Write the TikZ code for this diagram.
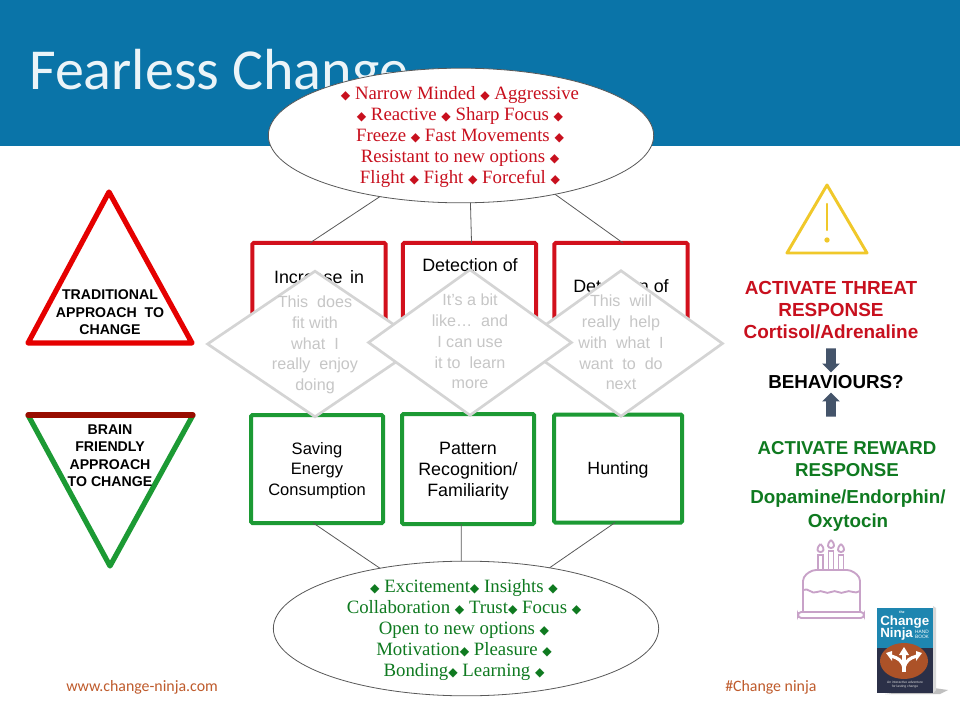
\documentclass[tikz,border=0pt]{standalone}
\usepackage{fontspec}
\setmainfont{Liberation Sans}
\newfontfamily\calfont{Carlito}
\newfontfamily\serfont{Liberation Serif}
\newfontfamily\symfont{DejaVu Sans}
\usetikzlibrary{shapes.geometric,shapes.arrows}
\definecolor{banner}{HTML}{0A74A8}
\definecolor{boxred}{HTML}{D2101C}
\definecolor{boxgreen}{HTML}{1C9A34}
\definecolor{txtred}{HTML}{C8101E}
\definecolor{txtgreen}{HTML}{0F7A20}
\definecolor{dimond}{HTML}{D4D4D4}
\definecolor{dimtxt}{HTML}{C6C6C6}
\definecolor{cake}{HTML}{C8A2C8}
\definecolor{foot}{HTML}{BF5B2C}
\definecolor{slate}{HTML}{44546A}
\definecolor{warn}{HTML}{F0C82A}
\definecolor{bookblue}{HTML}{1E86B0}
\definecolor{bookdark}{HTML}{2B3048}
\newcommand{\bul}{{\symfont\fontsize{9.2}{9.2}\selectfont ◆}}
\tikzset{
    oval/.style={draw=black!65, fill=white, ellipse, line width=0.6pt, inner sep=0pt, outer sep=0pt,
        minimum width=289pt, minimum height=101pt},
    ovaltxt/.style={align=center, inner sep=0pt, font=\serfont\fontsize{14.1}{15.75}\selectfont},
    redbox/.style={draw=boxred, fill=white, line width=3pt, rounded corners=1pt, inner sep=0pt, outer sep=0pt},
    greenbox/.style={draw=boxgreen, fill=white, line width=3pt, rounded corners=1pt, inner sep=0pt, outer sep=0pt},
    boxtxt/.style={align=center, inner sep=0pt, font=\fontsize{13.4}{15.6}\selectfont},
    dimbox/.style={draw=dimond, fill=white, diamond, line width=2pt, inner sep=0pt,
        minimum width=153pt, minimum height=110pt},
    dimlabel/.style={text=dimtxt, align=center, inner sep=0pt, font=\fontsize{12.1}{15.6}\selectfont},
    tritxt/.style={align=center, inner sep=0pt, font=\bfseries\fontsize{10.6}{13.1}\selectfont},
    sidetxt/.style={align=center, inner sep=0pt, font=\bfseries\fontsize{14.2}{16.5}\selectfont},
    blockarrow/.style={single arrow, fill=slate, inner xsep=0pt, inner ysep=3.4pt, minimum height=18pt, minimum width=13pt,
        single arrow head extend=3pt, single arrow tip angle=90},
    link/.style={draw=black!65, line width=0.6pt},
    footer/.style={text=foot, inner sep=0pt, font=\calfont\fontsize{11.9}{13}\selectfont}
}
\begin{document}
\begin{tikzpicture}[x=0.75pt, y=-0.75pt]
    \useasboundingbox (0, 0) rectangle (960, 720);
    \fill[white] (0, 0) rectangle (960, 720);

    % header
    \fill[banner] (0, 0) rectangle (960, 146);
    \node[text=white!92!banner, anchor=west, inner sep=0pt, font=\calfont\fontsize{43.5}{44}\selectfont] (title) at (29, 74) {Fearless Change};

    % ovals
    \node[oval] (threat) at (461, 135.5) {};
    \node[oval] (reward) at (466, 628.5) {};
    \node[ovaltxt, text=txtred] at (460, 137.5) {\bul{} Narrow Minded \bul{} Aggressive\\
        \bul{} Reactive \bul{} Sharp Focus \bul\\
        Freeze \bul{} Fast Movements \bul\\
        Resistant to new options \bul\\
        Flight \bul{} Fight \bul{} Forceful \bul};
    \node[ovaltxt, text=txtgreen] at (464, 630.5) {\bul{} Excitement\bul{} Insights \bul\\
        Collaboration \bul{} Trust\bul{} Focus \bul\\
        Open to new options \bul\\
        Motivation\bul{} Pleasure \bul\\
        Bonding\bul{} Learning \bul};

    % red boxes
    \node[redbox, minimum width=100pt, minimum height=87pt] (increase) at (319, 301) {};
    \node[redbox, minimum width=100pt, minimum height=87pt] (detecta) at (469.5, 301) {};
    \node[redbox, minimum width=100pt, minimum height=87pt] (detectb) at (621, 301) {};
    \node[boxtxt] at (319, 277) {Increase\hspace{0.42em}in};
    \node[boxtxt] at (470, 265) {Detection of};
    \node[boxtxt] at (621, 286) {Detection of};

    % green boxes
    \node[greenbox, minimum width=99pt, minimum height=81pt] (saving) at (317, 469) {};
    \node[greenbox, minimum width=99pt, minimum height=82.5pt] (pattern) at (468, 469) {};
    \node[greenbox, minimum width=96pt, minimum height=81pt] (hunting) at (618, 468.5) {};
    \node[boxtxt, font=\fontsize{12.4}{15.4}\selectfont] at (317, 470.5) {Saving\\Energy\\Consumption};
    \node[boxtxt] at (468, 471) {Pattern\\Recognition/\\Familiarity};
    \node[boxtxt, font=\fontsize{13.3}{15.6}\selectfont] at (618, 470) {Hunting};

    % links
    \draw[link] (threat.217) -- (increase.99);
    \draw[link] (threat.-82) -- (detecta.88);
    \draw[link] (threat.-32) -- (detectb.88);
    \draw[link] (saving.-94) -- (reward.145);
    \draw[link] (pattern.-97) -- (reward.94);
    \draw[link] (hunting.-93) -- (reward.36);

    % grey diamonds
    \node[dimbox, minimum width=162pt] (fit) at (315, 344) {};
    \node[dimbox] (help) at (621, 343.5) {};
    \node[dimbox] (like) at (470, 342.5) {};
    \node[dimlabel] at (315, 345) {This\ \ does\\fit with\\what\ \ I\\really\ \ enjoy\\doing};
    \node[dimlabel] at (470, 341.5) {It’s a bit\\like…\ \ and\\I can use\\it to\ \ learn\\more};
    \node[dimlabel] at (621, 342.5) {This\ \ will\\really\ \ help\\with\ \ what\ \ I\\want\ \ to\ \ do\\next};

    % triangles
    \draw[red!90!black, line width=3.9pt, line join=round] (109, 192) -- (192, 343) -- (28, 343) -- cycle;
    \draw[boxgreen, line width=3.9pt, line join=round] (28, 415) -- (110, 566) -- (193, 415);
    \draw[red!55!black!90!orange, line width=3.9pt, line cap=round] (28, 415) -- (193, 415);
    \node[tritxt] at (110, 312.5) {TRADITIONAL\\APPROACH\ \ TO\\CHANGE};
    \node[tritxt] at (110, 455.5) {BRAIN\\FRIENDLY\\APPROACH\\TO CHANGE};

    % warning sign
    \draw[warn, line width=2.2pt, line join=round] (827, 185) -- (867, 253) -- (787, 253) -- cycle;
    \draw[warn, line width=1.6pt, line cap=round] (827, 204) -- (827, 230);
    \fill[warn] (827, 240) circle (2pt);

    % right column
    \node[sidetxt, text=txtred] (threattxt) at (831, 310) {ACTIVATE THREAT\\RESPONSE\\Cortisol/Adrenaline};
    \node[inner sep=0pt, font=\bfseries\fontsize{14.1}{15}\selectfont] (behave) at (836, 382) {BEHAVIOURS?};
    \node[blockarrow, rotate=-90] (downarrow) at (831, 358) {};
    \node[blockarrow, rotate=90] (uparrow) at (831, 407) {};
    \node[sidetxt, text=txtgreen, font=\bfseries\fontsize{14}{16.5}\selectfont] (rewardtxt) at (847, 459) {ACTIVATE REWARD\\RESPONSE};
    \node[sidetxt, text=txtgreen, font=\bfseries\fontsize{14.1}{18}\selectfont] (hormones) at (848, 510.5) {Dopamine/Endorphin/\\Oxytocin};

    % cake
    \begin{scope}[draw=cake, line width=1.4pt]
        \draw[rounded corners=3pt] (803, 612) -- (803, 577) -- (812, 570) -- (851, 570) -- (860, 577) -- (860, 612);
        \draw[rounded corners=2.5pt] (798, 612) rectangle (864, 618);
        \draw (803, 590) .. controls (808, 587) and (812, 595) .. (817, 592)
            .. controls (822, 589) and (826, 595) .. (831, 592)
            .. controls (836, 589) and (840, 595) .. (845, 592)
            .. controls (850, 589) and (855, 595) .. (860, 591);
        \foreach \cx/\cy in {820.5/555, 831/551, 841/555} {
            \draw (\cx-2.5, 570) -- (\cx-2.5, \cy) -- (\cx+2.5, \cy) -- (\cx+2.5, 570);
            \draw (\cx, \cy-11) .. controls (\cx+5, \cy-6) and (\cx+3, \cy-3) .. (\cx, \cy-3)
                .. controls (\cx-3, \cy-3) and (\cx-5, \cy-6) .. (\cx, \cy-11);
        }
    \end{scope}

    % book
    \fill[black!25] (885, 694) -- (940, 694) -- (948, 690) -- (934, 688) -- cycle;
    \fill[black!15] (933, 606) -- (936, 608) -- (936, 690) -- (933, 693) -- cycle;
    \fill[bookblue] (877, 608) rectangle (933, 648);
    \fill[bookdark] (877, 648) rectangle (933, 693);
    \fill[foot!90!black] (904, 661) ellipse (24 and 18);
    \node[text=white, inner sep=0pt, font=\bfseries\fontsize{2.6}{3}\selectfont] (bookthe) at (902, 612) {the};
    \node[text=white, inner sep=0pt, anchor=west, font=\bfseries\fontsize{10}{10}\selectfont] (bookone) at (880, 622) {Change};
    \node[text=white, inner sep=0pt, anchor=west, font=\bfseries\fontsize{10}{10}\selectfont] (booktwo) at (880, 634) {Ninja};
    \node[text=white, inner sep=0pt, align=center, font=\fontsize{3.6}{3.8}\selectfont] (bookthree) at (922, 634) {HAND\\BOOK};
    \draw[white, line width=2.4pt] (904, 672) -- (904, 654);
    \draw[white, line width=2.4pt] (904, 668) .. controls (902, 660) and (898, 658) .. (891, 656);
    \draw[white, line width=2.4pt] (904, 668) .. controls (906, 660) and (910, 658) .. (917, 656);
    \fill[white] (904, 647) -- (899, 655) -- (909, 655) -- cycle;
    \fill[white] (886, 653) -- (892, 651) -- (892, 661) -- cycle;
    \fill[white] (922, 653) -- (916, 651) -- (916, 661) -- cycle;
    \node[text=white!85!black, inner sep=0pt, align=center, font=\fontsize{2.5}{3}\selectfont] (bookfoot) at (905, 685) {An interactive adventure\\for lasting change};

    % footer
    \node[footer, anchor=west] (site) at (66, 687) {www.change-ninja.com};
    \node[footer, anchor=west] (tag) at (725, 687) {\#Change ninja};
\end{tikzpicture}
\end{document}
